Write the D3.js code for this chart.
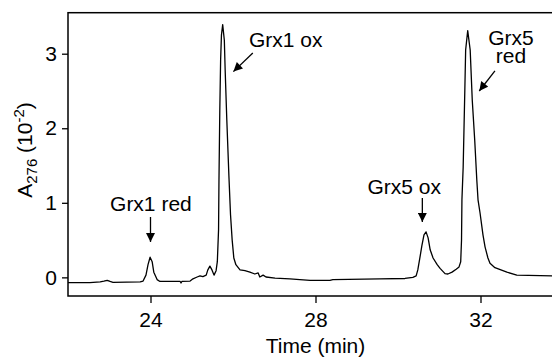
<!DOCTYPE html>
<html>
<head>
<meta charset="utf-8">
<script src="https://cdn.jsdelivr.net/npm/d3@7"></script>
<style>
  body { margin: 0; background: #fff; }
  svg text { font-family: "Liberation Sans", Arial, Helvetica, sans-serif; fill: #000; }
</style>
</head>
<body>
<div class="content"></div>
<script>
const w = 552;
const h = 358;

// chromatogram, time in min, absorbance at 276 nm in 10^-2
const time = [22.00, 22.53, 22.78, 22.87, 22.95, 23.02, 23.09, 23.75, 23.82, 23.89,
	23.94, 23.99, 24.04, 24.08, 24.16, 24.23, 24.72, 24.74, 24.76, 24.96,
	25.03, 25.13, 25.20, 25.27, 25.35, 25.39, 25.44, 25.49, 25.54, 25.59,
	25.62, 25.65, 25.66, 25.68, 25.70, 25.72, 25.75, 25.79, 25.81, 25.85,
	25.90, 25.94, 25.98, 26.02, 26.07, 26.17, 26.29, 26.41, 26.53, 26.61,
	26.65, 26.73, 26.80, 27.02, 27.38, 27.62, 27.87, 28.35, 28.42, 29.56,
	30.17, 30.36, 30.44, 30.48, 30.53, 30.58, 30.63, 30.68, 30.73, 30.78,
	30.85, 30.95, 31.02, 31.14, 31.21, 31.31, 31.41, 31.48, 31.52, 31.54,
	31.55, 31.58, 31.62, 31.64, 31.69, 31.75, 31.80, 31.86, 31.91, 31.94,
	31.99, 32.06, 32.11, 32.18, 32.23, 32.35, 32.64, 32.88, 33.73, 34.00];
const absorbance = [-0.07, -0.07, -0.06, -0.05, -0.04, -0.055, -0.066, -0.06, -0.05, 0.03,
	0.17, 0.27, 0.21, 0.07, -0.03, -0.055, -0.055, -0.075, -0.055, -0.05,
	-0.02, 0.005, 0.02, 0.01, 0.03, 0.10, 0.15, 0.10, 0.03, 0.09,
	0.21, 0.64, 1.31, 2.24, 2.92, 3.25, 3.39, 3.18, 2.78, 2.11,
	1.37, 0.84, 0.50, 0.26, 0.17, 0.10, 0.09, 0.07, 0.045, 0.06,
	0.005, 0.03, 0.005, -0.01, -0.02, -0.03, -0.04, -0.04, -0.03, -0.02,
	-0.015, 0.0, 0.02, 0.10, 0.26, 0.43, 0.57, 0.61, 0.53, 0.37,
	0.26, 0.17, 0.12, 0.05, 0.045, 0.07, 0.11, 0.14, 0.21, 0.50,
	1.04, 1.48, 2.51, 3.05, 3.31, 3.05, 2.38, 1.84, 1.31, 1.04,
	0.86, 0.57, 0.41, 0.26, 0.19, 0.13, 0.07, 0.03, 0.02, 0.02];

const xTicks = [24, 28, 32];
const yTicks = [0, 1, 2, 3];

// peak labels: text position, arrow start and arrow tip (data units)
const labelLines = [['Grx1 red'], ['Grx1 ox'], ['Grx5 ox'], ['Grx5', 'red']];
const labelT = [24.01, 27.28, 30.15, 32.74];
const labelV = [0.89, 3.095, 1.12, 3.12];
const arrowFrom = [[24.0, 0.81], [26.48, 3.01], [30.59, 1.065], [32.35, 2.77]];
const arrowTo = [[24.0, 0.475], [26.01, 2.76], [30.59, 0.743], [31.97, 2.50]];

const x = d3.scaleLinear().domain([22, 34]).range([68, 563]);
const y = d3.scaleLinear().domain([-0.25, 3.55]).range([296, 12.7]);

const svg = d3.select('.content').append('svg')
	.attr('width', w)
	.attr('height', h);

svg.append('defs').append('marker')
	.attr('id', 'head')
	.attr('markerUnits', 'userSpaceOnUse')
	.attr('viewBox', '0 0 10 10')
	.attr('refX', 10)
	.attr('refY', 5)
	.attr('markerWidth', 10)
	.attr('markerHeight', 9)
	.attr('orient', 'auto')
	.append('path')
	.attr('d', 'M0,0L10,5L0,10Z')
	.attr('fill', '#000');

// frame
svg.append('rect')
	.attr('x', x(22))
	.attr('y', y(3.55))
	.attr('width', x(34) - x(22))
	.attr('height', y(-0.25) - y(3.55))
	.attr('fill', 'none')
	.attr('stroke', '#000')
	.attr('stroke-width', 1.5);

const xAxis = svg.append('g')
	.attr('transform', `translate(0,${y(-0.25)})`)
	.call(d3.axisBottom(x).tickValues(xTicks).tickSize(7).tickPadding(9).tickFormat(d3.format('d')));

const yAxis = svg.append('g')
	.attr('transform', `translate(${x(22)},0)`)
	.call(d3.axisLeft(y).tickValues(yTicks).tickSize(6).tickPadding(5).tickFormat(d3.format('d')));

[xAxis, yAxis].forEach(g => {
	g.select('.domain').remove();
	g.selectAll('line').attr('stroke', '#000').attr('stroke-width', 1.3);
	g.selectAll('text')
		.style('font-family', '"Liberation Sans", Arial, sans-serif')
		.style('font-size', '21px')
		.attr('fill', '#000');
});

svg.append('text')
	.attr('x', (x(22) + x(34)) / 2)
	.attr('y', 353)
	.attr('text-anchor', 'middle')
	.style('font-size', '21px')
	.text('Time (min)');

const yLabel = svg.append('text')
	.attr('transform', `translate(32,150) rotate(-90)`)
	.attr('text-anchor', 'middle')
	.style('font-size', '21px');
yLabel.append('tspan').text('A');
yLabel.append('tspan').attr('dy', 5).style('font-size', '15px').text('276');
yLabel.append('tspan').attr('dy', -5).text(' (10');
yLabel.append('tspan').attr('dy', -8).style('font-size', '15px').text('-2');
yLabel.append('tspan').attr('dy', 8).text(')');

// trace
const points = time.map((t, i) => [t, absorbance[i]]);
svg.append('path')
	.datum(points)
	.attr('fill', 'none')
	.attr('stroke', '#000')
	.attr('stroke-width', 1.3)
	.attr('stroke-linejoin', 'round')
	.attr('d', d3.line().x(d => x(d[0])).y(d => y(d[1])));

// annotations
labelLines.forEach((lines, i) => {
	const t = svg.append('text')
		.attr('x', x(labelT[i]))
		.attr('y', y(labelV[i]))
		.attr('text-anchor', 'middle')
		.style('font-size', '21px');
	lines.forEach((s, j) => {
		t.append('tspan')
			.attr('x', x(labelT[i]))
			.attr('dy', j === 0 ? 0 : 18)
			.text(s);
	});
	svg.append('line')
		.attr('x1', x(arrowFrom[i][0]))
		.attr('y1', y(arrowFrom[i][1]))
		.attr('x2', x(arrowTo[i][0]))
		.attr('y2', y(arrowTo[i][1]))
		.attr('stroke', '#000')
		.attr('stroke-width', 1.3)
		.attr('marker-end', 'url(#head)');
});
</script>
</body>
</html>
